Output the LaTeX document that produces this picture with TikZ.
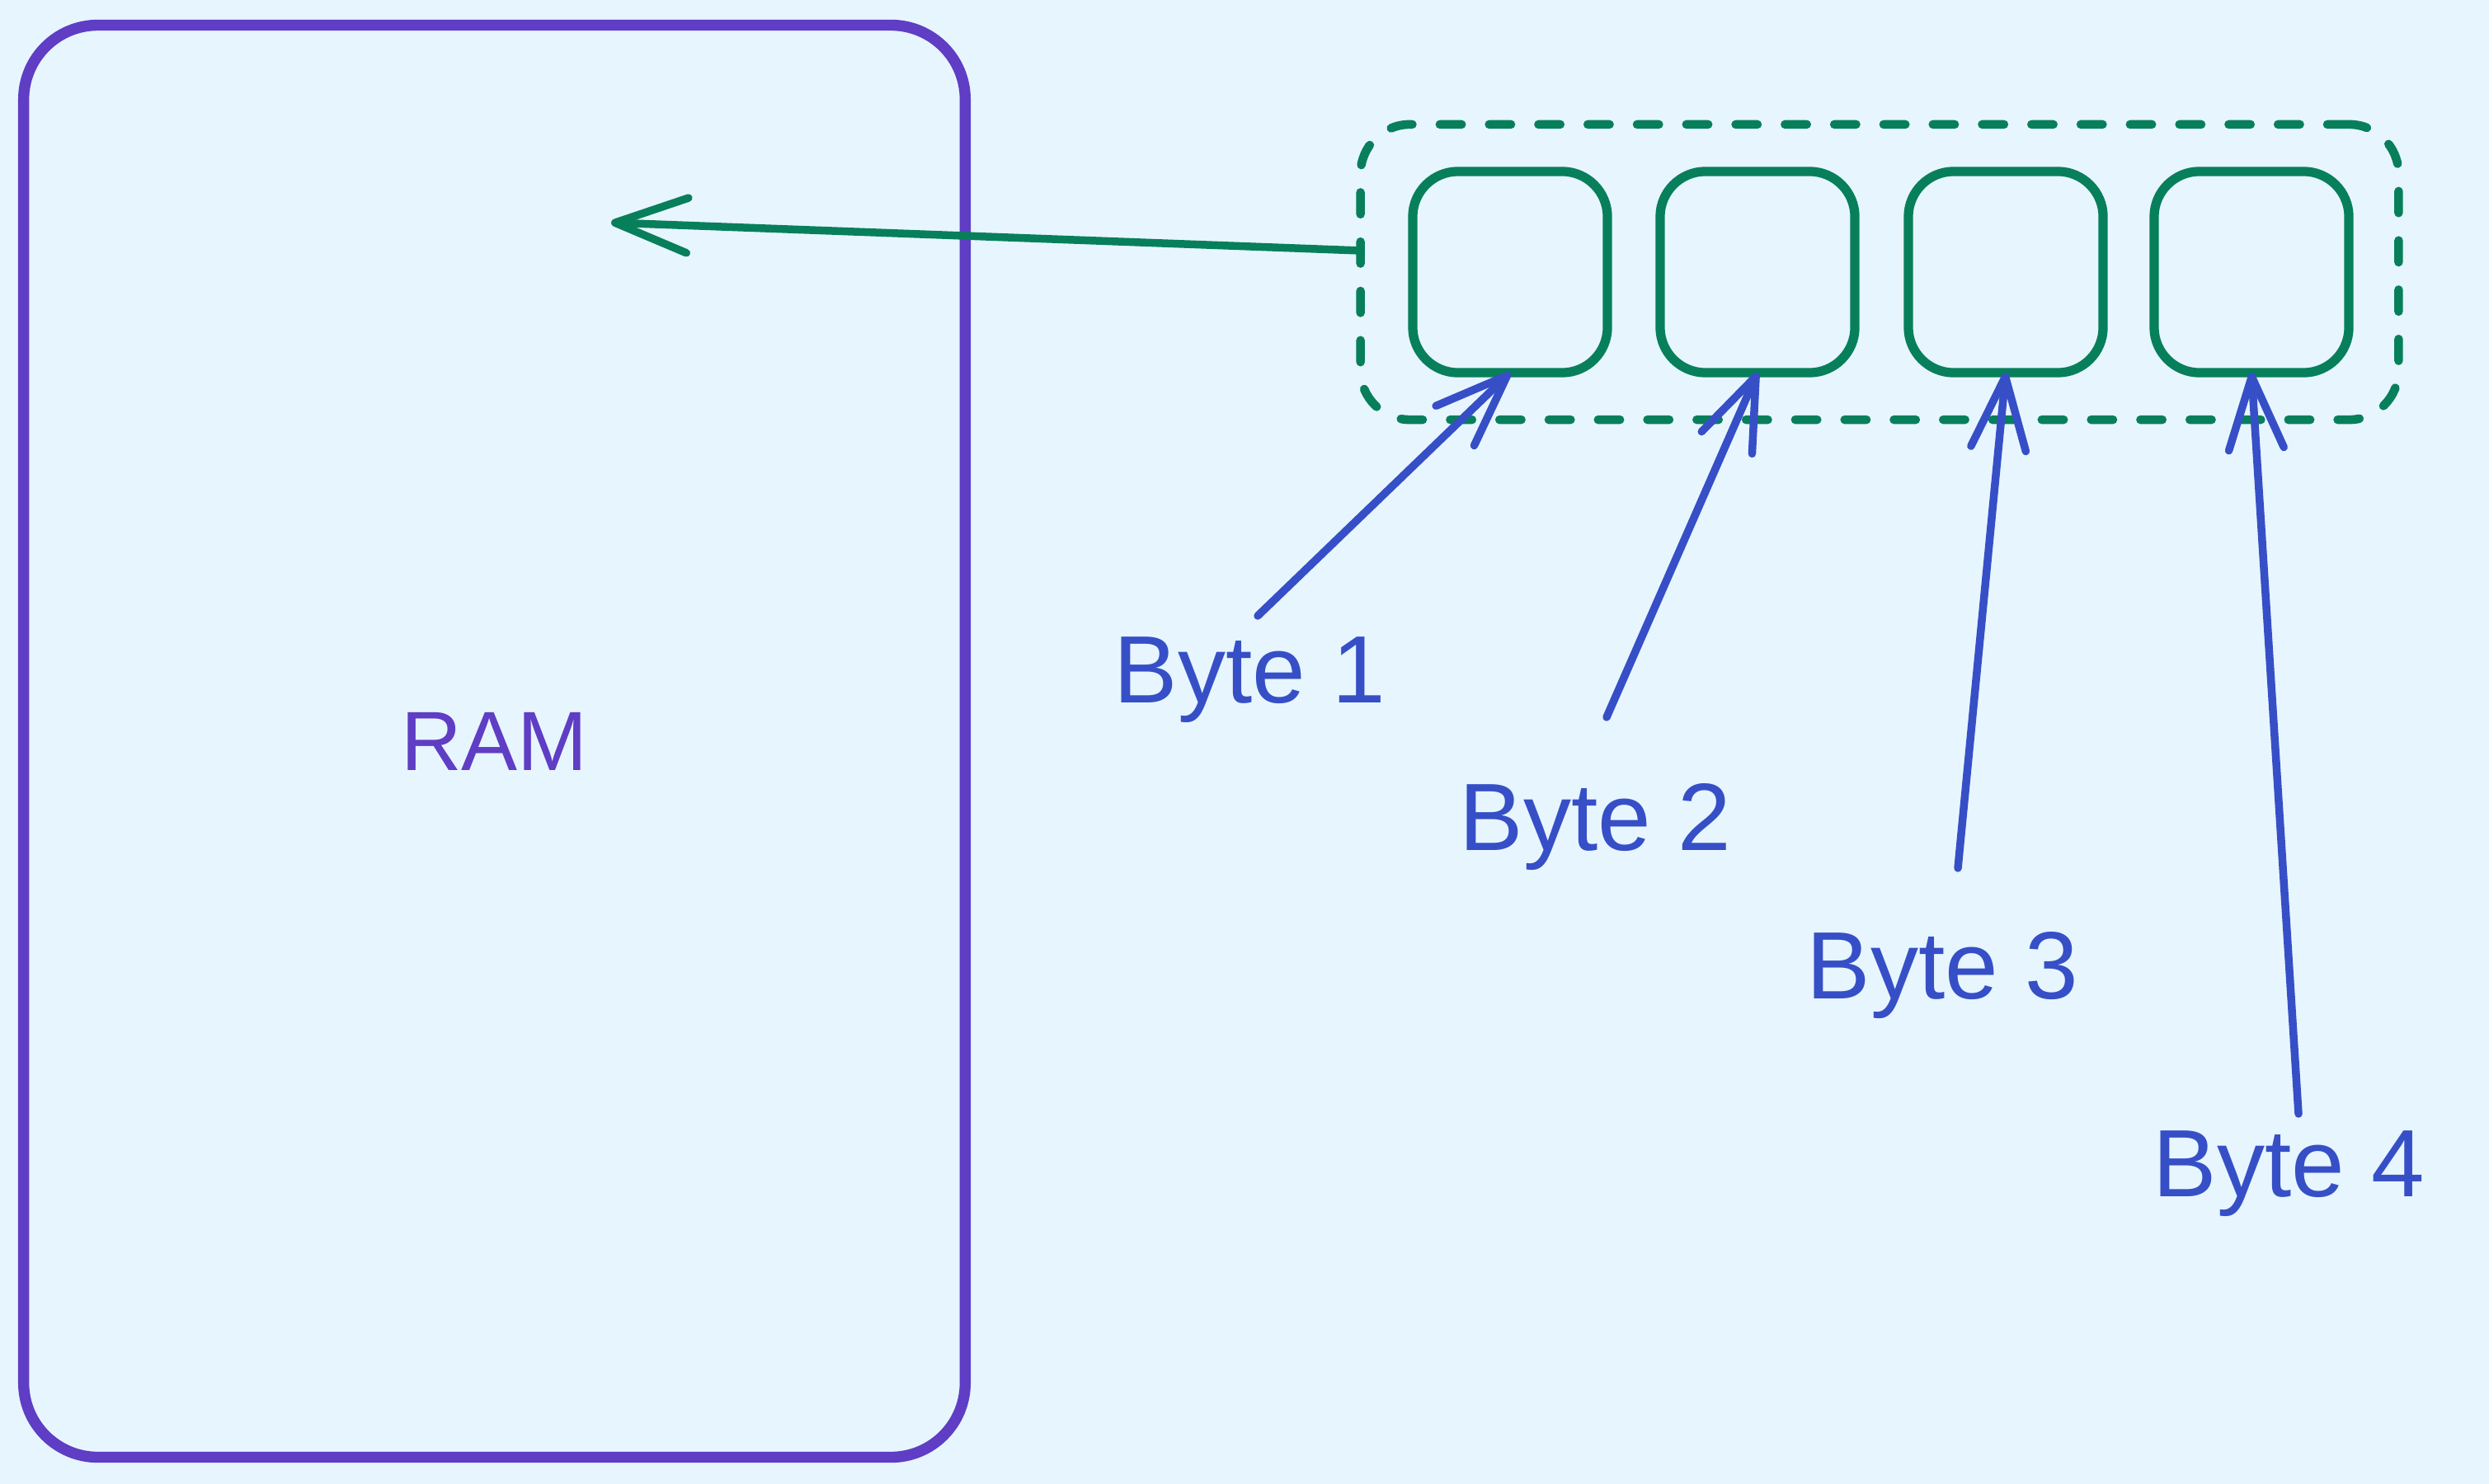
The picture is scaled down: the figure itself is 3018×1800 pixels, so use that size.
\documentclass[tikz,border=0pt]{standalone}
\usepackage{fontspec}
\setmainfont{Liberation Sans}
\usetikzlibrary{arrows.meta}
\definecolor{bgc}{HTML}{E7F5FF}
\definecolor{ramc}{HTML}{5F3DC4}
\definecolor{grn}{HTML}{087F5B}
\definecolor{blu}{HTML}{364FC7}
\tikzset{
  rambox/.style={draw=ramc, line width=3.8pt, rounded corners=0.9cm, outer sep=0pt,
    minimum width=11.41cm, minimum height=17.36cm, text=ramc,
    font=\fontsize{29pt}{34pt}\selectfont},
  bytebox/.style={draw=grn, line width=3.2pt, rounded corners=0.55cm, outer sep=0pt,
    minimum width=2.36cm, minimum height=2.44cm},
  grpbox/.style={draw=grn, line width=3.0pt, rounded corners=0.6cm, outer sep=0pt,
    line cap=round, dash pattern=on 7.5pt off 9.5pt,
    minimum width=12.58cm, minimum height=3.58cm},
  lbl/.style={text=blu, inner sep=0pt, anchor=base west,
    font=\fontsize{33pt}{38pt}\selectfont},
  garrow/.style={draw=grn, line width=2.7pt, line cap=round, line join=round,
    -{Straight Barb[length=25pt,width=19pt,line cap=round,line join=round]}},
  barrow/.style={draw=blu, line width=2.7pt, line cap=round, line join=round,
    -{Straight Barb[length=25pt,width=19pt,line cap=round,line join=round]}}
}
\begin{document}
\begin{tikzpicture}[x=0.01cm,y=-0.01cm]
\useasboundingbox[fill=bgc] (0,0) rectangle (3018,1800);

\node[rambox] (ram) at (599.5,899) {RAM};

\node[grpbox] (grp) at (2279,330) {};
\node[bytebox] (b1) at (1831,330) {};
\node[bytebox] (b2) at (2131,330) {};
\node[bytebox] (b3) at (2432,330) {};
\node[bytebox] (b4) at (2730,330) {};

\node[lbl] (l1) at (1350,852) {Byte 1};
\node[lbl] (l2) at (1769,1031) {Byte 2};
\node[lbl] (l3) at (2190,1211) {Byte 3};
\node[lbl] (l4) at (2610,1451) {Byte 4};

\coordinate (gs) at (1650,304);
\coordinate (gt) at (741,270);
\draw[garrow] (gs) -- (gt);

\coordinate (t1) at (1525,747);
\coordinate (t2) at (1948,870);
\coordinate (t3) at (2374,1053);
\coordinate (t4) at (2787,1351);
\draw[barrow] (t1) -- (b1.south);
\draw[barrow] (t2) -- (b2.south);
\draw[barrow] (t3) -- (b3.south);
\draw[barrow] (t4) -- (b4.south);
\end{tikzpicture}
\end{document}
